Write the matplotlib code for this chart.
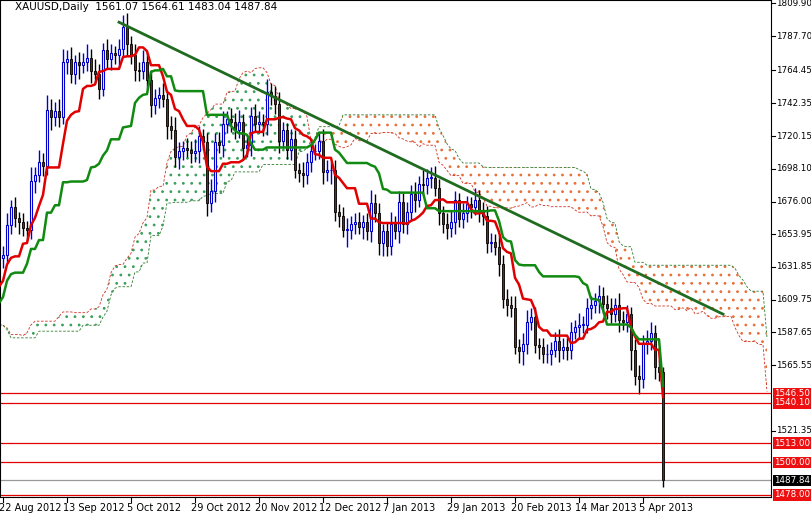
import numpy as np
import matplotlib.pyplot as plt

# closes before the visible window (only feed the Ichimoku lines)
pre_close = [1663,1660,1653,1636,1644, 1638,1605,1593,1596,1580, 1557,1546,1541,1572,1591,
             1592,1571,1558,1558,1573, 1573,1564,1562,1550,1622, 1616,1617,1618,1588,1592,
             1597,1609,1618,1620,1627, 1624,1618,1603,1565,1573, 1586,1573,1575,1558,1605,
             1598,1618,1614,1607,1580, 1589,1575,1574,1571,1589, 1589,1588,1578,1581,1585,
             1577,1577,1603,1618,1623, 1620,1613,1598,1589,1605, 1610,1611,1612,1618,1621,
             1599,1600,1599,1616,1617, 1621,1638]

# visible daily closes, 22 Aug 2012 .. 12 Apr 2013
close = [1640,1660,1672, 1665,1662,1658,1657,1690, 1694,1703,1700,1738,
         1733,1737,1733,1770,1772, 1762,1770,1768,1770,1773, 1764,1762,1752,1778,1772,
         1776,1775,1779,1794,1782, 1775,1765,1764,1770,1758, 1741,1746,1748,1745,1727,
         1724,1706,1710,1712,1711, 1709,1710,1720,1716,1675, 1683,1716,1714,1728,1732,
         1730,1724,1730,1712,1714, 1734,1728,1730,1728,1750, 1747,1742,1717,1724,1711,
         1718,1697,1695,1694,1703, 1710,1710,1717,1696,1697, 1697,1669,1666,1657,1657,
         1661,1662,1659,1662,1656, 1675,1668,1648,1656, 1646,1661,1656,1676,1661,
         1669,1681,1677,1688,1687, 1692,1692,1685,1668,1661, 1658,1662,1677,1664,1668,
         1674,1672,1677,1670,1666, 1648,1649,1645,1634,1610, 1606,1604,1578,1575,1580,
         1595,1598,1579,1578,1573, 1573,1576,1582,1576,1578, 1576,1588,1591,1593,1593,
         1604,1606,1609,1612,1607, 1604,1600,1606,1596,1595, 1600,1576,1558,1556,1580,
         1582,1587,1564,1561,1487.84]
first_open = 1638
up = [6,8,5, 7,4,6,5,9, 5,8,6,10, 7,6,8,9,6, 8,5,7,6,9, 6,8,7,5,8,
      6,5,7,8,9, 6,7,5,8,6, 7,6,5,8,6, 7,9,6,5,7, 6,8,7,5,6, 8,6,7,9,5,
      7,6,8,5,7, 6,8,7,5,9, 6,7,8,6,5, 7,6,5,8,6, 7,5,6,8,7, 6,7,5,6,8,
      5,6,7,5,6, 9,6,7,5, 6,8,5,7,6, 7,6,8,5,9, 6,7,8,6,5, 7,8,6,5,7,
      6,5,8,7,6, 7,6,5,8,6, 7,6,8,5,7, 8,6,7,5,6, 7,5,6,8,6, 6,7,5,8,6,
      7,6,5,8,6, 6,7,5,8,6, 6,5,7,8,6, 7,8,6,5,3.5]
dn = [7,5,6, 6,8,5,7,6, 8,5,7,6, 9,6,7,5,8, 6,7,9,5,6, 8,6,7,5,6,
      7,6,8,5,7, 6,8,7,5,6, 8,6,7,5,9, 6,7,8,6,5, 7,6,8,5,9, 6,7,5,8,6,
      7,6,5,8,6, 7,5,6,8,7, 6,7,8,5,6, 7,5,6,8,6, 7,6,5,8,6, 9,6,7,5,12,
      6,7,5,8,6, 7,6,8,9, 7,6,5,8,6, 7,6,8,5,6, 6,7,5,8,6, 7,6,8,5,6,
      6,7,5,8,6, 7,6,5,8,6, 7,6,5,8,9, 7,6,5,8,6, 6,7,5,8,6, 7,6,5,8,6,
      6,7,5,8,6, 7,6,5,8,6, 7,14,6,10,6, 7,6,8,6,4.8]

levels = [1546.50, 1540.10, 1513.00, 1500.00, 1478.00]
last_price = 1487.84
price_ticks = [1809.90, 1787.70, 1764.45, 1742.35, 1720.15, 1698.10, 1676.00,
               1653.95, 1631.85, 1609.75, 1587.65, 1565.55, 1521.35]
date_labels = ['22 Aug 2012', '13 Sep 2012', '5 Oct 2012', '29 Oct 2012', '20 Nov 2012',
               '12 Dec 2012', '7 Jan 2013', '29 Jan 2013', '20 Feb 2013', '14 Mar 2013',
               '5 Apr 2013']
trend_x = [29, 180]
trend_y = [1797, 1600]

# ---- build OHLC ----
n = len(close)
c = np.array(close, float)
o = np.r_[first_open, c[:-1]]
h = np.maximum(o, c) + np.array(up)
l = np.minimum(o, c) - np.array(dn)

pc = np.array(pre_close, float)
po = np.r_[pc[0], pc[:-1]]
allh = np.r_[np.maximum(po, pc), h]
alll = np.r_[np.minimum(po, pc), l]
npre = len(pc)
N = len(allh)

def mid(period):
    r = np.full(N, np.nan)
    for i in range(period - 1, N):
        r[i] = (allh[i-period+1:i+1].max() + alll[i-period+1:i+1].min()) / 2
    return r

tenkan = mid(9)
kijun = mid(26)
sb = mid(52)
sa = (tenkan + kijun) / 2
spanA = np.full(N + 26, np.nan); spanA[26:] = sa
spanB = np.full(N + 26, np.nan); spanB[26:] = sb

x = np.arange(n)
xc = np.arange(-npre, n + 26)

plt.rcParams['hatch.linewidth'] = 0.8
fig = plt.figure(figsize=(8.12, 5.16), dpi=100)
ax = fig.add_axes([0, 19/516, 771/812, 497/516])
ymin, ymax = 1476.6, 1812.0
ax.set_ylim(ymin, ymax)
ax.set_xlim(-0.75, 192)

# cloud
ok = ~np.isnan(spanA) & ~np.isnan(spanB)
bull = ok & (spanA >= spanB)
bear = ok & (spanA < spanB)
ax.fill_between(xc, spanA, spanB, where=bull, facecolor='none', edgecolor='#3aa05a',
                hatch='..', linewidth=0.0001, interpolate=True)
ax.fill_between(xc, spanA, spanB, where=bear, facecolor='none', edgecolor='#e8703a',
                hatch='..', linewidth=0.0001, interpolate=True)
ax.plot(xc, spanA, color='#d03020', lw=0.6, ls=(0, (3, 2)))
ax.plot(xc, spanB, color='#2e7a2e', lw=0.6, ls=(0, (3, 2)))

# candles
for i in range(n):
    if c[i] >= o[i]:
        ax.vlines(x[i], l[i], h[i], color='#0000cc', lw=1)
        ax.add_patch(plt.Rectangle((x[i]-0.35, o[i]), 0.7, max(c[i]-o[i], 0.3),
                                   facecolor='white', edgecolor='#0000cc', lw=0.8, zorder=3))
    else:
        ax.vlines(x[i], l[i], h[i], color='black', lw=1)
        ax.add_patch(plt.Rectangle((x[i]-0.35, c[i]), 0.7, o[i]-c[i],
                                   facecolor='#8b1a1a', edgecolor='black', lw=0.6, zorder=3))

ax.plot(xc[:N], tenkan, color='#e00000', lw=1.8, zorder=4)
ax.plot(xc[:N], kijun, color='#108a10', lw=1.8, zorder=4)
ax.plot(trend_x, trend_y, color='#1f6b1f', lw=2, zorder=5)

for lv in levels:
    ax.axhline(lv, color='#e00000', lw=0.9)
ax.axhline(last_price, color='#999999', lw=0.9)

ax.set_xticks([]); ax.set_yticks([])
for s in ax.spines.values():
    s.set_color('black'); s.set_linewidth(0.8)

ax.text(3, 1810.5, 'XAUUSD,Daily  1561.07 1564.61 1483.04 1487.84', fontsize=7.5, va='top')

tr = ax.get_yaxis_transform()
for p in price_ticks:
    ax.text(1.007, p, f'{p:.2f}', transform=tr, fontsize=6.3, va='center', clip_on=False)
    ax.plot([1, 1.005], [p, p], transform=tr, color='black', lw=0.8, clip_on=False)
for lv in levels:
    ax.text(1.004, lv, f'{lv:.2f}', transform=tr, fontsize=6.3, va='center', color='white',
            bbox=dict(boxstyle='square,pad=0.15', fc='#ee1010', ec='none'), clip_on=False)
ax.text(1.004, last_price, f'{last_price:.2f}', transform=tr, fontsize=6.3, va='center',
        color='white', bbox=dict(boxstyle='square,pad=0.15', fc='black', ec='none'), clip_on=False)

xt = ax.get_xaxis_transform()
for k, lab in enumerate(date_labels):
    ax.plot([k*16, k*16], [0, -0.01], transform=xt, color='black', lw=0.8, clip_on=False)
    ax.text(k*16 - 1, -0.012, lab, transform=xt, fontsize=7, va='top', ha='left', clip_on=False)

fig.savefig('out.png', dpi=100)
